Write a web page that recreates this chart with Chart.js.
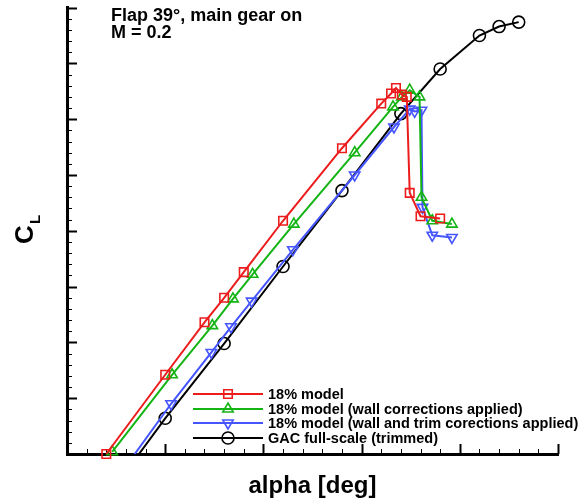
<!DOCTYPE html>
<html>
<head>
<meta charset="utf-8">
<title>CL vs alpha</title>
<script src="https://cdn.jsdelivr.net/npm/chart.js@4.4.1/dist/chart.umd.min.js"></script>
<style>
    html, body { margin: 0; padding: 0; background: #fff; }
    #wrap { width: 587px; height: 499px; }
</style>
</head>
<body>
<div id="wrap"><canvas id="clChart" width="587" height="499"></canvas></div>
<script>
// 데이터 (alpha [deg], C_L)
const alphaModel = [-3, 0, 2, 3, 4, 6, 9, 11, 11.5, 11.75, 12.05, 12.3, 12.45, 13, 14];
const clModel = [0.0, 0.71, 1.18, 1.40, 1.63, 2.09, 2.74, 3.14, 3.23, 3.28, 3.22, 3.20, 2.34, 2.13, 2.11];

const alphaWall = [-2.7, 0.35, 2.4, 3.45, 4.45, 6.55, 9.65, 11.6, 12.05, 12.45, 12.95, 13.05, 13.6, 14.6];
const clWall = [0.02, 0.71, 1.15, 1.39, 1.61, 2.06, 2.70, 3.11, 3.20, 3.26, 3.20, 2.30, 2.09, 2.06];

const alphaTrim = [-2.7, 0.3, 2.35, 3.35, 4.4, 6.5, 9.65, 11.65, 12.45, 12.7, 13.05, 13.1, 13.6, 14.6];
const clTrim = [-0.28, 0.45, 0.91, 1.14, 1.37, 1.83, 2.50, 2.93, 3.09, 3.07, 3.08, 2.21, 1.96, 1.94];

const alphaGAC = [-3, 0, 3, 6, 9, 12, 14, 16, 17, 18];
const clGAC = [-0.40, 0.32, 0.99, 1.68, 2.36, 3.05, 3.45, 3.75, 3.83, 3.87];

const seriesLabels = [
    '18% model',
    '18% model (wall corrections applied)',
    '18% model (wall and trim corections applied)',
    'GAC full-scale (trimmed)'
];

// 축 범위 / 눈금 (라벨 없음, 눈금만)
const xRange = [-5, 20];
const xMajorStep = 5;
const yRange = [0, 4];
const yMajorStep = 0.5;
const minorPerMajor = 5;

const FONT = '"Liberation Sans", Arial, Helvetica, sans-serif';

function toPoints(xs, ys) {
    return xs.map((x, i) => ({ x: x, y: ys[i] }));
}

// 범례 마커 그리기
function drawMarker(ctx, style, x, y, r) {
    ctx.beginPath();
    if (style === 'rect') {
        const s = Math.SQRT1_2 * r;
        ctx.rect(x - s, y - s, 2 * s, 2 * s);
    } else if (style === 'triangle' || style === 'triangleDown') {
        let rad = style === 'triangle' ? 0 : Math.PI;
        for (let k = 0; k < 3; k++) {
            const px = x + Math.sin(rad) * r;
            const py = y - Math.cos(rad) * r;
            if (k === 0) ctx.moveTo(px, py); else ctx.lineTo(px, py);
            rad += 2 * Math.PI / 3;
        }
        ctx.closePath();
    } else {
        ctx.arc(x, y, r, 0, Math.PI * 2);
    }
    ctx.stroke();
}

// 눈금, 제목, 범례를 그리는 플러그인
const decorPlugin = {
    id: 'decor',
    beforeDatasetsDraw(chart) {
        const ctx = chart.ctx;
        const xs = chart.scales.x;
        const ys = chart.scales.y;
        const area = chart.chartArea;
        ctx.save();
        ctx.strokeStyle = '#000';

        // x 눈금 (안쪽 방향)
        const xMinor = xMajorStep / minorPerMajor;
        const nx = Math.round((xRange[1] - xRange[0]) / xMinor);
        for (let i = 0; i <= nx; i++) {
            const v = xRange[0] + i * xMinor;
            const px = Math.round(xs.getPixelForValue(v)) + 0.5;
            const major = i % minorPerMajor === 0;
            ctx.lineWidth = major ? 2 : 1;
            ctx.beginPath();
            ctx.moveTo(px, area.bottom);
            ctx.lineTo(px, area.bottom - (major ? 10 : 5));
            ctx.stroke();
        }

        // y 눈금 (안쪽 방향)
        const yMinor = yMajorStep / minorPerMajor;
        const ny = Math.round((yRange[1] - yRange[0]) / yMinor);
        for (let i = 0; i <= ny; i++) {
            const v = yRange[0] + i * yMinor;
            const py = Math.round(ys.getPixelForValue(v)) + 0.5;
            const major = i % minorPerMajor === 0;
            ctx.lineWidth = major ? 2 : 1;
            ctx.beginPath();
            ctx.moveTo(area.left, py);
            ctx.lineTo(area.left + (major ? 10 : 5), py);
            ctx.stroke();
        }
        ctx.restore();
    },
    afterDraw(chart) {
        const ctx = chart.ctx;
        const area = chart.chartArea;
        ctx.save();
        ctx.fillStyle = '#000';

        // 플롯 내부 텍스트
        ctx.font = 'bold 18px ' + FONT;
        ctx.textAlign = 'left';
        ctx.textBaseline = 'alphabetic';
        ctx.fillText('Flap 39\u00B0, main gear on', 111, 21);
        ctx.fillText('M = 0.2', 111, 38);

        // x 축 제목
        ctx.font = 'bold 24px ' + FONT;
        ctx.textAlign = 'center';
        ctx.fillText('alpha [deg]', (area.left + area.right) / 2, 493);

        // y 축 제목 C_L (회전)
        ctx.save();
        ctx.translate(23, 236);
        ctx.rotate(-Math.PI / 2);
        ctx.textAlign = 'left';
        ctx.font = 'bold 26px ' + FONT;
        ctx.fillText('C', -8, 10);
        ctx.font = 'bold 15px ' + FONT;
        ctx.fillText('L', 12, 17);
        ctx.restore();

        // 범례
        const x0 = 193, x1 = 263, xm = 228;
        const rowY = [394, 409, 423, 438];
        chart.data.datasets.forEach((ds, i) => {
            const y = rowY[i];
            ctx.strokeStyle = ds.borderColor;
            ctx.lineWidth = ds.borderWidth;
            ctx.beginPath();
            ctx.moveTo(x0, y);
            ctx.lineTo(x1, y);
            ctx.stroke();
            ctx.lineWidth = ds.pointBorderWidth;
            const style = ds.pointRotation === 180 ? 'triangleDown' : ds.pointStyle;
            drawMarker(ctx, style, xm, y, ds.pointRadius);
            ctx.fillStyle = '#000';
            ctx.font = 'bold 14.5px ' + FONT;
            ctx.textAlign = 'left';
            ctx.textBaseline = 'middle';
            ctx.fillText(ds.label, 268, y + 1);
        });
        ctx.restore();
    }
};

function makeSeries(label, xs, ys, color, style, rotation, clipBottom) {
    return {
        label: label,
        data: toPoints(xs, ys),
        showLine: true,
        borderColor: color,
        borderWidth: 2,
        tension: 0,
        pointStyle: style,
        pointRotation: rotation,
        pointRadius: 6,
        pointHoverRadius: 6,
        pointBorderWidth: 1.6,
        pointBorderColor: color,
        pointBackgroundColor: 'rgba(0,0,0,0)',
        clip: { left: 0, top: 0, right: 0, bottom: clipBottom }
    };
}

document.addEventListener('DOMContentLoaded', function() {
    const ctx = document.getElementById('clChart').getContext('2d');

    new Chart(ctx, {
        type: 'scatter',
        data: {
            datasets: [
                makeSeries(seriesLabels[0], alphaModel, clModel, '#ec1c1c', 'rect', 0, 6),
                makeSeries(seriesLabels[1], alphaWall, clWall, '#14b414', 'triangle', 0, 6),
                makeSeries(seriesLabels[2], alphaTrim, clTrim, '#4656ff', 'triangle', 180, 0),
                makeSeries(seriesLabels[3], alphaGAC, clGAC, '#000000', 'circle', 0, 0)
            ]
        },
        options: {
            responsive: false,
            animation: false,
            devicePixelRatio: 1,
            layout: {
                padding: { left: 67, top: 7, right: 29, bottom: 45 }
            },
            plugins: {
                legend: { display: false },
                tooltip: { enabled: false }
            },
            scales: {
                x: {
                    type: 'linear',
                    min: xRange[0],
                    max: xRange[1],
                    ticks: { display: false },
                    grid: { display: false, drawTicks: false },
                    border: { display: true, color: '#000', width: 3 }
                },
                y: {
                    type: 'linear',
                    min: yRange[0],
                    max: yRange[1],
                    ticks: { display: false },
                    grid: { display: false, drawTicks: false },
                    border: { display: true, color: '#000', width: 3 }
                }
            }
        },
        plugins: [decorPlugin]
    });
});
</script>
</body>
</html>
